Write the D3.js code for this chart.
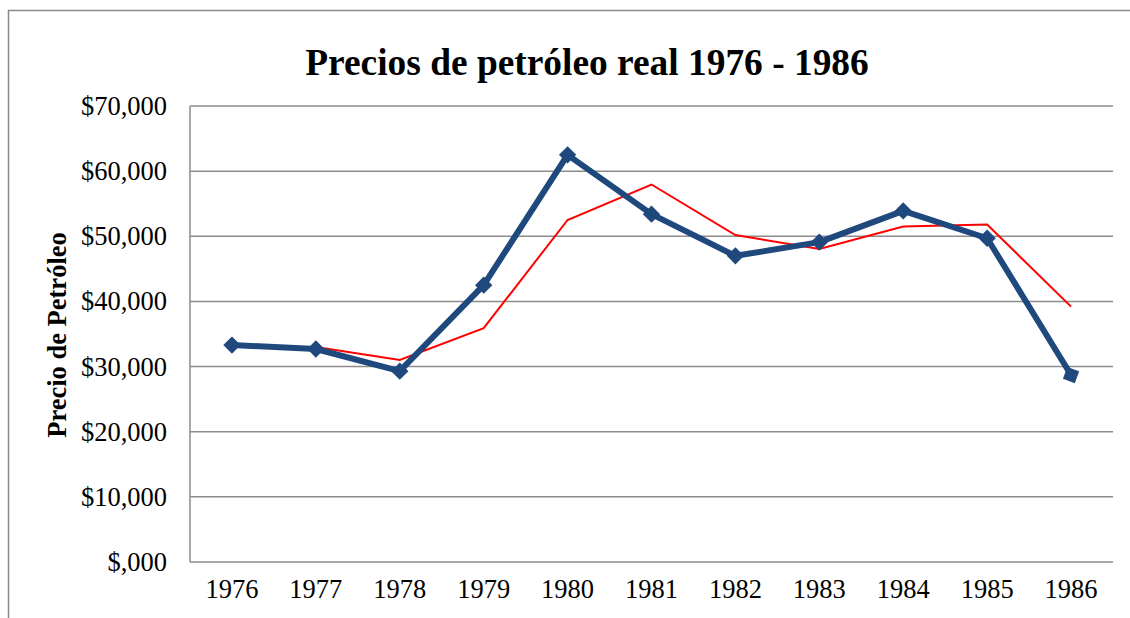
<!DOCTYPE html>
<html>
<head>
<meta charset="utf-8">
<script src="https://cdn.jsdelivr.net/npm/d3@7"></script>
<style>
  body { margin: 0; background: #fff; }
  text { font-family: "Liberation Serif", "Times New Roman", serif; fill: #000; }
</style>
</head>
<body>
<div id="chart"></div>
<script>
// data
const years = ["1976", "1977", "1978", "1979", "1980", "1981", "1982", "1983", "1984", "1985", "1986"];
const precio = [33300, 32700, 29300, 42500, 62500, 53400, 47000, 49100, 53900, 49700, 28700];
// trend line (starts at 1977)
const media = [null, 33000, 31000, 35900, 52500, 57950, 50200, 48050, 51500, 51800, 39200];
const yTicks = [0, 10000, 20000, 30000, 40000, 50000, 60000, 70000];

const W = 1130, H = 618;
const margin = {top: 106, right: 17, bottom: 56, left: 190};
const width = W - margin.left - margin.right;
const height = H - margin.top - margin.bottom;

const svg = d3.select("#chart").append("svg")
    .attr("width", W)
    .attr("height", H);

// outer frame
svg.append("rect")
    .attr("x", 8.5).attr("y", 10.5)
    .attr("width", W + 20).attr("height", H + 20)
    .attr("fill", "none")
    .attr("stroke", "#888")
    .attr("stroke-width", 1.5);

svg.append("text")
    .attr("x", 587).attr("y", 75)
    .attr("text-anchor", "middle")
    .style("font-size", "37.4px")
    .style("font-weight", "bold")
    .text("Precios de petróleo real 1976 - 1986");

const g = svg.append("g")
    .attr("transform", "translate(" + margin.left + "," + margin.top + ")");

const x = d3.scaleBand().domain(years).range([0, width]).padding(0);
const y = d3.scaleLinear().domain([0, 70000]).range([height, 0]);

// gridlines
g.append("g")
    .selectAll("line")
    .data(yTicks)
    .enter()
    .append("line")
    .attr("x1", 0).attr("x2", width)
    .attr("y1", d => y(d)).attr("y2", d => y(d))
    .attr("stroke", "#8c8c8c")
    .attr("stroke-width", 1.5);

// left axis line
g.append("line")
    .attr("x1", 0).attr("x2", 0)
    .attr("y1", 0).attr("y2", height)
    .attr("stroke", "#8c8c8c")
    .attr("stroke-width", 1.5);

const fmt = d => d === 0 ? "$,000" : "$" + d3.format(",")(d / 1000) + ",000";

const yAxis = g.append("g")
    .call(d3.axisLeft(y).tickValues(yTicks).tickFormat(fmt).tickSize(0).tickPadding(23));
yAxis.select(".domain").remove();
yAxis.selectAll("text")
    .style("font-size", "26.5px")
    .attr("dy", "0.32em");

const xAxis = g.append("g")
    .attr("transform", "translate(0," + height + ")")
    .call(d3.axisBottom(x).tickSize(0).tickPadding(17));
xAxis.select(".domain").remove();
xAxis.selectAll("text")
    .style("font-size", "26.5px");

svg.append("text")
    .attr("transform", "translate(66," + 335 + ") rotate(-90)")
    .attr("text-anchor", "middle")
    .style("font-size", "26.5px")
    .style("font-weight", "bold")
    .text("Precio de Petróleo");

const cx = i => x(years[i]) + x.bandwidth() / 2;

// red trend line
const redLine = d3.line()
    .defined(d => d !== null)
    .x((d, i) => cx(i))
    .y(d => y(d));

g.append("path")
    .datum(media)
    .attr("d", redLine)
    .attr("fill", "none")
    .attr("stroke", "#ff0000")
    .attr("stroke-width", 2);

// main blue series
const blueLine = d3.line()
    .x((d, i) => cx(i))
    .y(d => y(d));

g.append("path")
    .datum(precio)
    .attr("d", blueLine)
    .attr("fill", "none")
    .attr("stroke", "#1f497d")
    .attr("stroke-width", 6)
    .attr("stroke-linejoin", "round");

// markers: squares turned into diamonds, the last one only slightly tilted
g.append("g")
    .selectAll("path")
    .data(precio)
    .enter()
    .append("path")
    .attr("transform", (d, i) => "translate(" + cx(i) + "," + y(d) + ") rotate(" + (i === precio.length - 1 ? 20 : 45) + ")")
    .attr("d", (d, i) => d3.symbol()
        .type(d3.symbolSquare)
        .size(i === precio.length - 1 ? 160 : 150)())
    .attr("fill", "#1f497d");
</script>
</body>
</html>
